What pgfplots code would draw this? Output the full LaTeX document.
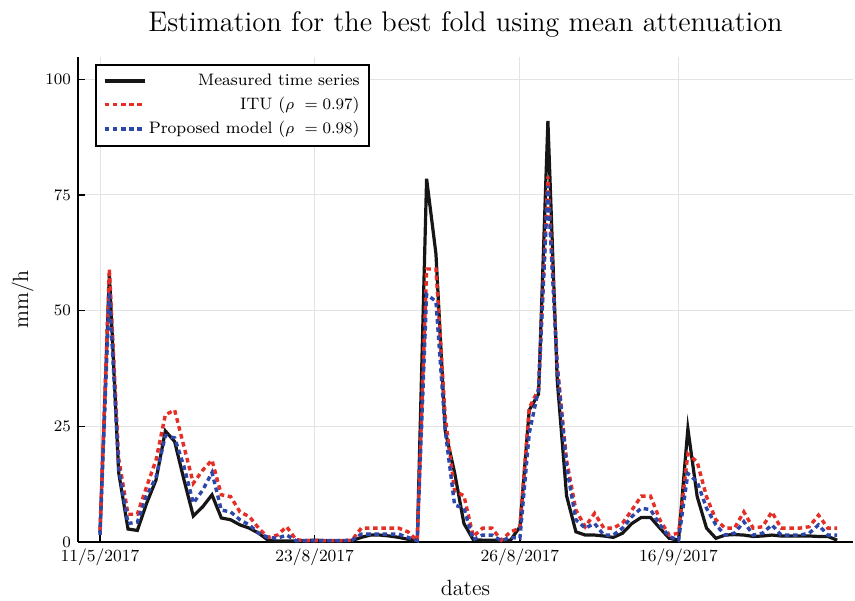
\documentclass[border=0pt]{standalone}
\usepackage{pgfplots}
\usepackage{pgfplotstable}
\pgfplotsset{compat=1.18}
\definecolor{meas}{RGB}{22,22,22}
\definecolor{itu}{RGB}{228,46,38}
\definecolor{prop}{RGB}{44,70,170}
\pgfplotstableread{
i meas itu prop
0 2 2.5 1.5
1 58 59 54
2 15 18 16
3 2.8 6 4
4 2.5 6 4.3
5 8.4 12 10
6 13.4 17.7 14
7 24 27.5 23
8 21.7 28.5 22.5
9 13.4 20.6 16.3
10 5.6 12.7 8.4
11 7.6 15.5 11.2
12 10.2 17.7 15
13 5.2 10.2 6.9
14 4.8 9.8 6.5
15 3.7 6.5 4.8
16 3 5.5 3.7
17 1.9 3 1.9
18 0.4 1 1
19 0.2 1.5 0.8
20 0.2 3.3 1.5
21 0.2 0.5 0.3
22 0.3 0.3 0.3
23 0.4 0.3 0.3
24 0.3 0.3 0.3
25 0.3 0.3 0.3
26 0.3 0.3 0.3
27 0.3 0.4 0.4
28 1 3 1.7
29 1.5 3 1.7
30 1.5 3 1.7
31 1.3 3 1.7
32 1 3 1.7
33 0.6 2.2 1
34 0.3 0.3 0.3
35 78.5 59 53.5
36 62.3 59 52
37 24 27 24
38 15 11 8
39 4 10 7.3
40 0.5 1.2 0.5
41 0.4 3 1.5
42 0.4 3 1.5
43 0.3 0.4 0.3
44 0.4 2.2 1
45 3.3 3 0.8
46 28.5 29 23.5
47 32 33 33
48 91 79 77
49 35 38 38
50 10 17.7 16.3
51 2.2 6.9 4.8
52 1.5 3.3 3
53 1.5 6.2 4
54 1.3 3 1.5
55 1 3 1.5
56 1.9 4.1 3
57 4 6.9 5.5
58 5.3 9.9 7.3
59 5.3 9.9 7
60 3 4.8 3.7
61 0.8 1.5 1.2
62 0.4 1.9 0.4
63 24.5 19 14.8
64 9.8 17.3 13
65 3 9.8 7.3
66 0.8 4.8 3.7
67 1.5 3 1.5
68 1.6 3 1.9
69 1.5 6.5 4.4
70 1.2 3 1.5
71 1.3 3.3 1.9
72 1.5 6.5 3.7
73 1.3 3 1.5
74 1.3 3 1.5
75 1.3 3 1.5
76 1.3 3.3 1.9
77 1.2 5.8 3.7
78 1.2 3 1.5
79 0.4 3 1.5
}\datatable
\begin{document}
\begin{tikzpicture}
\begin{axis}[
  scale only axis,
  width=387.5pt, height=242.5pt,
  xmin=-2.36, xmax=80.7,
  ymin=0, ymax=104.8,
  axis lines*=left,
  axis line style={line width=0.8pt, black},
  xtick={0,23,45,62},
  xticklabels={11/5/2017,23/8/2017,26/8/2017,16/9/2017},
  ytick={0,25,50,75,100},
  tick align=inside,
  major tick length=3.5pt,
  tick style={black, line width=0.6pt},
  grid=major,
  major grid style={draw=black!11, line width=0.5pt},
  ticklabel style={font=\fontsize{8.5}{10}\selectfont},
  every axis title shift=0pt,
  title={Estimation for the best fold using mean attenuation},
  title style={font=\fontsize{14.2}{16}\selectfont, at={(axis description cs:0.5,1.0536)}, anchor=base},
  xlabel={dates},
  xlabel style={font=\fontsize{11}{13}\selectfont, at={(axis description cs:0.5,-0.1113)}, anchor=base},
  ylabel={mm/h},
  ylabel style={font=\fontsize{11}{13}\selectfont, at={(axis description cs:-0.0645,0.5)}, anchor=base, rotate=0},
  legend style={at={(axis description cs:0.022,0.986)}, anchor=north west,
    font=\fontsize{8.3}{10}\selectfont, draw=black, line width=0.9pt, fill=white,
    inner xsep=3.5pt, inner ysep=2.5pt, row sep=0.4pt, nodes={inner xsep=1.2pt}},
  legend cell align=right,
  legend image code/.code={\draw[#1] (0pt,0pt) -- (20pt,0pt);},
]
\addplot[meas, line width=1.6pt] table[x=i, y=meas] {\datatable};
\addlegendentry{Measured time series}
\addplot[itu, line width=1.7pt, dash pattern=on 2.3pt off 1.8pt] table[x=i, y=itu] {\datatable};
\addlegendentry{ITU ($\rho\ = 0.97$)}
\addplot[prop, line width=1.7pt, dash pattern=on 2.3pt off 1.8pt] table[x=i, y=prop] {\datatable};
\addlegendentry{Proposed model ($\rho\ = 0.98$)}
\end{axis}
\pgfresetboundingbox
\useasboundingbox (-39pt,-29pt) rectangle (388.5pt,271pt);
\end{tikzpicture}
\end{document}
